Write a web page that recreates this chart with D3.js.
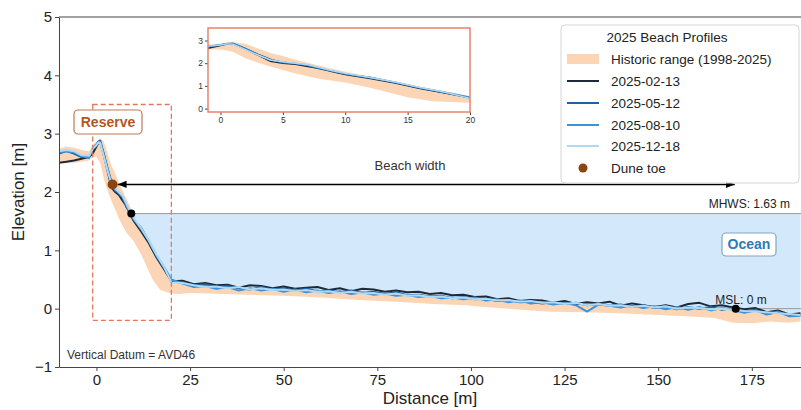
<!DOCTYPE html>
<html lang="en">
<meta charset="utf-8">
<head>
    <script src='https://d3js.org/d3.v7.min.js'></script>
    <style>
        body { margin: 0; background: white; }
        text { font-family: "Liberation Sans", Arial, sans-serif; }
    </style>
</head>
<body>
<div id="chart"></div>
<script>
    // distances of the surveyed points
    var dist = [-10,-8,-6,-4,-2,-1,0,0.5,1,2,3,4,5,6,7,8,9,10,12,14,16,18,20,
        23,26,29,32,35,38,41,44,47,50,53,56,59,62,65,68,71,74,77,80,83,86,89,92,95,98,
        101,104,107,110,113,116,119,122,125,128,131,134,137,140,143,146,149,152,155,158,
        161,164,167,170,173,176,179,182,185,188]

    var p0213 = [2.50,2.52,2.54,2.57,2.60,2.66,2.78,2.84,2.85,2.62,2.35,2.08,2.00,1.95,1.85,1.76,1.62,1.50,1.32,1.12,0.88,0.68,0.47,
        0.48,0.42,0.44,0.40,0.41,0.36,0.40,0.39,0.35,0.38,0.34,0.36,0.37,0.32,0.35,0.30,0.34,0.33,0.29,0.31,0.28,0.29,0.25,0.27,0.23,0.24,
        0.20,0.21,0.16,0.18,0.13,0.15,0.14,0.10,0.13,0.08,0.11,0.09,0.12,0.05,0.09,0.06,0.03,0.06,0.02,0.08,
        0.10,0.04,0.06,0.02,-0.01,0.01,-0.06,-0.03,-0.10,-0.08]
    var p0512 = [2.66,2.70,2.66,2.60,2.60,2.72,2.80,2.86,2.88,2.65,2.40,2.18,2.02,1.97,1.90,1.74,1.65,1.52,1.38,1.15,0.90,0.70,0.48,
        0.45,0.40,0.42,0.37,0.39,0.35,0.33,0.37,0.33,0.35,0.31,0.34,0.30,0.31,0.28,0.31,0.27,0.29,0.25,0.28,0.23,0.24,0.21,0.22,0.18,0.20,
        0.16,0.17,0.13,0.15,0.11,0.12,0.09,0.11,0.08,0.10,0.06,0.08,0.05,0.07,0.03,0.06,0.01,0.04,-0.01,0.03,
        0.00,0.03,-0.02,0.01,-0.05,-0.02,-0.09,-0.06,-0.12,-0.11]
    var p0810 = [2.68,2.70,2.68,2.62,2.58,2.75,2.82,2.87,2.86,2.63,2.38,2.15,2.04,1.99,1.92,1.78,1.64,1.53,1.36,1.16,0.92,0.72,0.50,
        0.43,0.37,0.39,0.34,0.37,0.31,0.35,0.31,0.34,0.29,0.33,0.28,0.31,0.27,0.30,0.25,0.28,0.24,0.26,0.22,0.24,0.20,0.22,0.18,0.19,0.16,
        0.19,0.14,0.16,0.11,0.14,0.09,0.11,0.07,0.10,0.06,-0.05,0.07,0.05,0.02,0.06,0.01,0.04,-0.01,0.03,-0.02,
        0.03,-0.03,0.01,-0.02,-0.07,-0.03,-0.10,-0.05,-0.13,-0.12]
    var p1218 = [2.70,2.72,2.70,2.63,2.62,2.74,2.80,2.85,2.84,2.60,2.36,2.14,2.06,2.00,1.93,1.80,1.66,1.55,1.37,1.17,0.93,0.72,0.45,
        0.44,0.40,0.37,0.38,0.35,0.37,0.33,0.35,0.32,0.33,0.30,0.32,0.29,0.30,0.27,0.29,0.26,0.27,0.24,0.26,0.22,0.23,0.20,0.21,0.18,0.19,
        0.16,0.17,0.14,0.15,0.12,0.13,0.10,0.11,0.08,0.10,0.06,0.08,0.05,0.06,0.03,0.05,0.02,0.04,0.00,0.02,
        0.01,-0.01,0.00,-0.02,-0.04,-0.05,-0.06,-0.08,-0.09,-0.11]

    // historic envelope 1998-2025
    var bandX = [-10,-8,-6,-4,-2,-1,0,1,2,3,4,5,6,8,10,12,15,17,20,22,25,30,40,50,60,70,80,90,99,100,
        101,110,120,130,140,150,160,165,170,175,180,185,188]
    var bandHi = [2.74,2.78,2.76,2.72,2.70,2.80,2.86,2.92,2.86,2.65,2.45,2.32,2.15,1.88,1.62,1.40,1.08,0.85,0.56,0.50,0.48,0.46,0.44,0.43,0.42,0.41,0.40,0.39,0.38,0.37,
        0.21,0.17,0.13,0.11,0.08,0.06,0.04,0.03,0.02,-0.02,-0.05,-0.07,-0.09]
    var bandLo = [2.52,2.50,2.50,2.52,2.54,2.60,2.60,2.50,2.22,2.02,1.85,1.70,1.55,1.30,1.15,0.92,0.50,0.32,0.26,0.25,0.27,0.26,0.24,0.22,0.19,0.15,0.12,0.08,0.06,0.05,
        0.04,0.00,-0.05,-0.06,-0.08,-0.11,-0.14,-0.16,-0.24,-0.25,-0.22,-0.24,-0.22]

    var dates = ["2025-02-13", "2025-05-12", "2025-08-10", "2025-12-18"]
    var colors = ["#1e2a36", "#1f62a0", "#3b93dc", "#b0daf4"]
    var profiles = [p0213, p0512, p0810, p1218]

    var mhws = 1.63
    var msl = 0
    var duneToe = [4.3, 2.13]
    var mhwsPt = [9.3, 1.63]
    var mslPt = [170.7, 0]
    var xTicks = [0, 25, 50, 75, 100, 125, 150, 175]
    var yTicks = [-1, 0, 1, 2, 3, 4, 5]

    var width = 801, height = 410

    var svg = d3.select("#chart").append("svg")
        .attr("width", width)
        .attr("height", height)

    var x = d3.scaleLinear().domain([-10, 190]).range([59, 808])
    var y = d3.scaleLinear().domain([-1, 5]).range([367, 17])

    svg.append("clipPath").attr("id", "clip")
        .append("rect").attr("x", 59).attr("y", 17).attr("width", 750).attr("height", 350)

    var plot = svg.append("g").attr("clip-path", "url(#clip)")

    function toPts(xs, ys) {
        return xs.map(function(d, i) { return [d, ys[i]] })
    }

    // historic band
    plot.append("path")
        .datum(bandX.map(function(d, i) { return {x: d, lo: bandLo[i], hi: bandHi[i]} }))
        .attr("fill", "#fbd5b5")
        .attr("d", d3.area()
            .x(function(d) { return x(d.x) })
            .y0(function(d) { return y(d.lo) })
            .y1(function(d) { return y(d.hi) }))

    // ocean between profile and MHWS
    var ocean = [{x: mhwsPt[0], y: mhws}]
    for (var i = 0; i < dist.length; i++) {
        if (dist[i] > mhwsPt[0]) ocean.push({x: dist[i], y: p0512[i]})
    }
    plot.append("path")
        .datum(ocean)
        .attr("fill", "#d4e8fb")
        .attr("d", d3.area()
            .x(function(d) { return x(d.x) })
            .y0(function(d) { return y(d.y) })
            .y1(y(mhws)))

    plot.append("line")
        .attr("x1", x(mhwsPt[0])).attr("x2", x(190))
        .attr("y1", y(mhws)).attr("y2", y(mhws))
        .attr("stroke", "#9a9a9a").attr("stroke-width", 1)
    plot.append("line")
        .attr("x1", x(mslPt[0])).attr("x2", x(190))
        .attr("y1", y(msl)).attr("y2", y(msl))
        .attr("stroke", "#9a9a9a").attr("stroke-width", 1)

    var line = d3.line()
        .x(function(d) { return x(d[0]) })
        .y(function(d) { return y(d[1]) })

    profiles.forEach(function(p, i) {
        plot.append("path")
            .datum(toPts(dist, p))
            .attr("fill", "none")
            .attr("stroke", colors[i])
            .attr("stroke-width", 2)
            .attr("stroke-linejoin", "round")
            .attr("d", line)
    })

    // reserve box
    svg.append("rect")
        .attr("x", x(-1)).attr("y", y(3.5))
        .attr("width", x(20) - x(-1)).attr("height", y(-0.2) - y(3.5))
        .attr("fill", "none").attr("stroke", "#e07a5f")
        .attr("stroke-width", 1.3).attr("stroke-dasharray", "5,3")

    // beach width arrow
    var defs = svg.append("defs")
    defs.append("marker").attr("id", "ah")
        .attr("viewBox", "0 0 10 10").attr("refX", 10).attr("refY", 5)
        .attr("markerWidth", 9).attr("markerHeight", 9)
        .attr("markerUnits", "userSpaceOnUse")
        .attr("orient", "auto-start-reverse")
        .append("path").attr("d", "M0,1 L10,5 L0,9 z").attr("fill", "black")

    svg.append("line")
        .attr("x1", x(duneToe[0]) + 5).attr("x2", x(mslPt[0]) - 1)
        .attr("y1", y(duneToe[1])).attr("y2", y(duneToe[1]))
        .attr("stroke", "black").attr("stroke-width", 1.5)
        .attr("marker-start", "url(#ah)").attr("marker-end", "url(#ah)")

    svg.append("text").attr("x", 410).attr("y", 170)
        .attr("text-anchor", "middle").attr("font-size", 13).attr("fill", "#333")
        .text("Beach width")

    svg.append("circle").attr("cx", x(mhwsPt[0])).attr("cy", y(mhwsPt[1])).attr("r", 4).attr("fill", "black")
    svg.append("circle").attr("cx", x(mslPt[0])).attr("cy", y(mslPt[1])).attr("r", 4).attr("fill", "black")
    svg.append("circle").attr("cx", x(duneToe[0])).attr("cy", y(duneToe[1])).attr("r", 5).attr("fill", "#8b4513")

    svg.append("text").attr("x", 790).attr("y", 208)
        .attr("text-anchor", "end").attr("font-size", 12).attr("fill", "#222")
        .text("MHWS: " + mhws + " m")
    svg.append("text").attr("x", 741).attr("y", 304)
        .attr("text-anchor", "middle").attr("font-size", 12).attr("fill", "#222")
        .text("MSL: " + msl + " m")

    // labels in boxes
    svg.append("rect").attr("x", 74).attr("y", 110).attr("width", 68).attr("height", 24)
        .attr("rx", 4).attr("fill", "white").attr("stroke", "#c07a55").attr("stroke-width", 1.2)
    svg.append("text").attr("x", 108).attr("y", 127).attr("text-anchor", "middle")
        .attr("font-size", 14).attr("font-weight", "bold").attr("fill", "#b4561f")
        .text("Reserve")
    svg.append("rect").attr("x", 722).attr("y", 233).attr("width", 54).attr("height", 23)
        .attr("rx", 4).attr("fill", "white").attr("stroke", "#7fa7c2").attr("stroke-width", 1.2)
    svg.append("text").attr("x", 749).attr("y", 249).attr("text-anchor", "middle")
        .attr("font-size", 14).attr("font-weight", "bold").attr("fill", "#2b7bb9")
        .text("Ocean")

    svg.append("text").attr("x", 67).attr("y", 359)
        .attr("font-size", 12).attr("fill", "#333")
        .text("Vertical Datum = AVD46")

    // axes
    var xAxis = svg.append("g")
        .attr("transform", "translate(0," + 367 + ")")
        .call(d3.axisBottom(x).tickValues(xTicks).tickSize(4).tickSizeOuter(0).tickPadding(3))
    var yAxis = svg.append("g")
        .attr("transform", "translate(59,0)")
        .call(d3.axisLeft(y).tickValues(yTicks).tickSize(4).tickSizeOuter(0).tickPadding(3)
            .tickFormat(function(d) { return d < 0 ? "\u2212" + Math.abs(d) : d }))
    svg.selectAll(".tick text").attr("font-size", 15).attr("fill", "#222")
        .style("font-family", "'Liberation Sans', Arial, sans-serif")
    svg.selectAll(".domain, .tick line").attr("stroke", "#444")
    svg.append("line").attr("x1", 59).attr("x2", 801).attr("y1", 17).attr("y2", 17)
        .attr("stroke", "#444")

    svg.append("text").attr("x", 430).attr("y", 404).attr("text-anchor", "middle")
        .attr("font-size", 17).attr("fill", "#222").text("Distance [m]")
    svg.append("text").attr("transform", "translate(24," + 192 + ") rotate(-90)")
        .attr("text-anchor", "middle").attr("font-size", 17).attr("fill", "#222")
        .text("Elevation [m]")

    // legend
    var lg = svg.append("g")
    lg.append("rect").attr("x", 561).attr("y", 25).attr("width", 238).attr("height", 158)
        .attr("rx", 4).attr("fill", "white").attr("fill-opacity", 0.9)
        .attr("stroke", "#d6d6d6")
    lg.append("text").attr("x", 667).attr("y", 42).attr("text-anchor", "middle")
        .attr("font-size", 13.5).attr("fill", "#222").text("2025 Beach Profiles")
    var rows = [59, 81, 103, 125, 146, 168]
    lg.append("rect").attr("x", 567).attr("y", rows[0] - 5).attr("width", 32).attr("height", 10)
        .attr("fill", "#fbd5b5")
    lg.append("text").attr("x", 611).attr("y", rows[0] + 5).attr("font-size", 13.5).attr("fill", "#222")
        .text("Historic range (1998-2025)")
    dates.forEach(function(d, i) {
        lg.append("line").attr("x1", 567).attr("x2", 599)
            .attr("y1", rows[i + 1]).attr("y2", rows[i + 1])
            .attr("stroke", colors[i]).attr("stroke-width", 2)
        lg.append("text").attr("x", 611).attr("y", rows[i + 1] + 5)
            .attr("font-size", 13.5).attr("fill", "#222").text(d)
    })
    lg.append("circle").attr("cx", 583).attr("cy", rows[5]).attr("r", 4.5).attr("fill", "#8b4513")
    lg.append("text").attr("x", 611).attr("y", rows[5] + 5).attr("font-size", 13.5).attr("fill", "#222")
        .text("Dune toe")

    // inset of the reserve
    var ix = d3.scaleLinear().domain([-1, 20]).range([208, 470])
    var iy = d3.scaleLinear().domain([-0.15, 3.55]).range([112, 28])
    var inset = svg.append("g")
    inset.append("rect").attr("x", 208).attr("y", 28).attr("width", 262).attr("height", 84)
        .attr("fill", "white")
    svg.append("clipPath").attr("id", "iclip")
        .append("rect").attr("x", 208).attr("y", 28).attr("width", 262).attr("height", 84)
    var ip = inset.append("g").attr("clip-path", "url(#iclip)")
    ip.append("path")
        .datum(bandX.map(function(d, i) { return {x: d, lo: bandLo[i], hi: bandHi[i]} }))
        .attr("fill", "#fbd5b5")
        .attr("d", d3.area()
            .x(function(d) { return ix(d.x) })
            .y0(function(d) { return iy(d.lo) })
            .y1(function(d) { return iy(d.hi) }))
    var iline = d3.line()
        .x(function(d) { return ix(d[0]) })
        .y(function(d) { return iy(d[1]) })
    profiles.forEach(function(p, i) {
        ip.append("path")
            .datum(toPts(dist, p))
            .attr("fill", "none")
            .attr("stroke", colors[i])
            .attr("stroke-width", 1.4)
            .attr("d", iline)
    })
    inset.append("g").attr("class", "iax")
        .attr("transform", "translate(0,112)")
        .call(d3.axisBottom(ix).tickValues([0, 5, 10, 15, 20]).tickSize(3).tickSizeOuter(0).tickPadding(2)
            .tickFormat(d3.format("d")))
    inset.append("g").attr("class", "iax")
        .attr("transform", "translate(208,0)")
        .call(d3.axisLeft(iy).tickValues([0, 1, 2, 3]).tickSize(3).tickSizeOuter(0).tickPadding(2)
            .tickFormat(d3.format("d")))
    inset.selectAll(".iax .tick text").attr("font-size", 8.5).attr("fill", "#333")
    inset.selectAll(".iax .domain").remove()
    inset.selectAll(".iax .tick line").attr("stroke", "#444")
    inset.append("rect").attr("x", 208).attr("y", 28).attr("width", 262).attr("height", 84)
        .attr("fill", "none").attr("stroke", "#e8826a").attr("stroke-width", 1.5)
</script>
</body>
</html>
